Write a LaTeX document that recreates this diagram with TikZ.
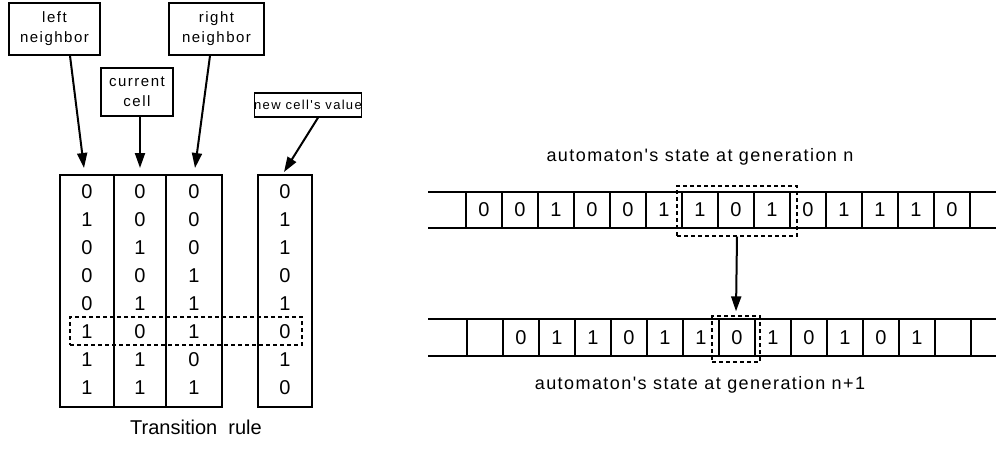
\documentclass[tikz,border=0pt]{standalone}
\usepackage{fontspec}
\setmainfont{Liberation Sans}
\newfontfamily\lblfont[LetterSpace=10]{Liberation Sans}
\newfontfamily\capfont[LetterSpace=8]{Liberation Sans}
\usetikzlibrary{arrows.meta,calc}
\begin{document}
\begin{tikzpicture}[x=1pt,y=-1pt,
  lblbox/.style={draw,line width=1.4pt,align=center,inner sep=0pt,
    font=\lblfont\fontsize{15}{20}\selectfont},
  colbox/.style={draw,line width=1.3pt,inner sep=0pt,minimum height=232pt},
  dig/.style={inner sep=0pt,font=\fontsize{20}{20}\selectfont},
  tapeline/.style={line width=2.2pt},
  celledge/.style={line width=2.4pt},
  hilite/.style={line width=1.3pt,dash pattern=on 4pt off 3pt},
  arr/.style={line width=2pt,-{Triangle[length=15pt,width=10pt]}},
  caption/.style={inner sep=0pt,anchor=base,font=\capfont\fontsize{18}{18}\selectfont}
]
\useasboundingbox (0,0) rectangle (996,455);

% ---------------- transition rule table ----------------
\node[lblbox,minimum width=91pt,minimum height=52pt] (ln) at (54.5,29) {left\\neighbor};
\node[lblbox,minimum width=95pt,minimum height=52pt] (rn) at (216.5,29) {right\\neighbor};
\node[lblbox,minimum width=72pt,minimum height=48pt] (cc) at (137,92) {current\\cell};
\node[lblbox,minimum width=96pt,minimum height=24pt,
  font=\lblfont\fontsize{13}{16}\selectfont] (nv) at (308,105) {new cell's value};

\node[colbox,minimum width=54pt] (c1) at (87,291) {};
\node[colbox,minimum width=52pt] (c2) at (140,291) {};
\node[colbox,minimum width=56pt] (c3) at (194,291) {};
\node[colbox,minimum width=54pt] (c4) at (285,291) {};

\foreach \a/\b/\c/\n [count=\r from 0] in
  {0/0/0/0,1/0/0/1,0/1/0/1,0/0/1/0,0/1/1/1,1/0/1/0,1/1/0/1,1/1/1/0} {
  \node[dig] (ra\r) at (87,{192+28*\r}) {\a};
  \node[dig] (rb\r) at (140,{192+28*\r}) {\b};
  \node[dig] (rc\r) at (194,{192+28*\r}) {\c};
  \node[dig] (rn\r) at (285,{192+28*\r}) {\n};
}

% highlighted rule 101 -> 0
\node[draw,hilite,inner sep=0pt,minimum width=232pt,minimum height=28pt] (hl) at (186,331) {};

% pointers from the labels to the columns
\coordinate (tipA) at (84,168);
\coordinate (tipB) at (140,168);
\coordinate (tipC) at (195,168);
\coordinate (tipD) at (284,172);
\draw[arr] ($(ln.south)+(15.5,0)$) -- (tipA);
\draw[arr] ($(cc.south)+(3,0)$) -- (tipB);
\draw[arr] ($(rn.south)+(-6.5,0)$) -- (tipC);
\draw[arr] ($(nv.south)+(10,0)$) -- (tipD);

\node[inner sep=0pt,anchor=base,font=\fontsize{20}{20}\selectfont] (tr) at (196,434) {Transition\ \ rule};

% ---------------- automaton tapes ----------------
\node[caption] (capn) at (700,161) {automaton's state at generation n};

% generation n
\draw[tapeline] (428,192) -- (996,192);
\draw[tapeline] (428,228) -- (996,228);
\foreach \i in {0,...,14} \draw[celledge] ({466+36*\i},192) -- ({466+36*\i},228);
\foreach \v [count=\i from 0] in {0,0,1,0,0,1,1,0,1,0,1,1,1,0}
  \node[dig] (g\i) at ({484+36*\i},210) {\v};
\node[draw,hilite,inner sep=0pt,minimum width=120pt,minimum height=50pt] (nb) at (737,211) {};

% generation n+1
\draw[tapeline] (428,319) -- (996,319);
\draw[tapeline] (428,356) -- (996,356);
\foreach \i in {0,...,14} \draw[celledge] ({467+36*\i},319) -- ({467+36*\i},356);
\foreach \v [count=\i from 1] in {0,1,1,0,1,1,0,1,0,1,0,1}
  \node[dig] (h\i) at ({485+36*\i},338) {\v};
\node[draw,hilite,inner sep=0pt,minimum width=48pt,minimum height=46pt] (nc) at (736,339) {};

\coordinate (tipE) at (nc.north);
\draw[arr] (nb.south) -- ($(tipE)+(0,-4)$);

\node[caption] (capn1) at (700,389) {automaton's state at generation n+1};
\end{tikzpicture}
\end{document}
